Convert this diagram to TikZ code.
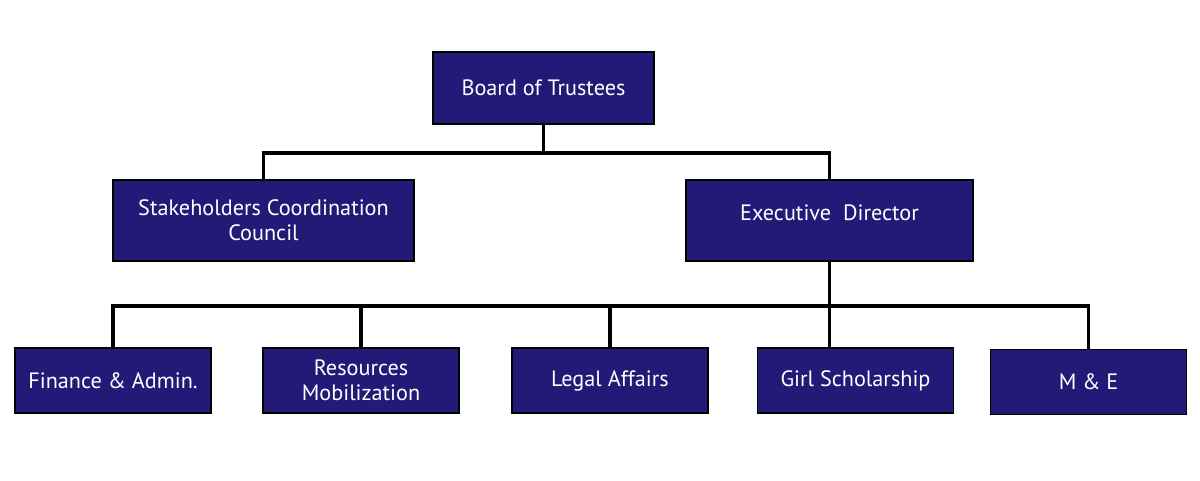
\documentclass[tikz,border=0pt]{standalone}
\usepackage{fontspec}
\usepackage{tikz}
\usepackage{xcolor}
\setmainfont{PT Sans}
\definecolor{boxblue}{RGB}{35,26,120}
\usetikzlibrary{positioning,calc}

\begin{document}
\begin{tikzpicture}[x=0.025cm,y=-0.025cm,line width=2.2pt,line join=miter,
                    main node/.style={rectangle,draw=black,line width=0.8pt,fill=boxblue,
                      text=white,align=center,inner sep=0pt,
                      font=\fontsize{15.8}{18}\selectfont},
                    top node/.style={main node,minimum width=5.525cm,minimum height=1.8cm},
                    mid node/.style={main node,minimum height=2.025cm},
                    low node/.style={main node,minimum width=4.9cm,minimum height=1.625cm}]

  \useasboundingbox (0,0) rectangle (1200,480);

  \node[top node] (board) at (543.5,88) {Board of Trustees};
  \node[mid node,minimum width=7.525cm] (stake) at (263.5,220.5) {Stakeholders Coordination\\Council};
  \node[mid node,minimum width=7.175cm] (exec) at (829.5,220.5) {Executive\ \ Director\\[-7pt]\mbox{}};

  \node[low node] (fin) at (113,380.5) {Finance \& Admin.};
  \node[low node] (res) at (361,380.5) {Resources\\Mobilization};
  \node[low node] (legal) at (610,380.5) {Legal Affairs};
  \node[low node] (girl) at (855.5,380.5) {Girl Scholarship};
  \node[low node] (me) at (1088.5,382) {M \& E};

  \coordinate (topbar) at (543.5,153);
  \coordinate (lowbar) at (610,306);

  % board level
  \draw (board.south) -- (board.south |- topbar);
  \draw (stake.north) -- (stake.north |- topbar) -| (exec.north);

  % departments
  \draw (exec.south) -- (exec.south |- girl.north);
  \draw (fin.north) -- (fin.north |- lowbar) -| (me.north);
  \draw (res.north) -- (res.north |- lowbar);
  \draw (legal.north) -- (legal.north |- lowbar);
\end{tikzpicture}
\end{document}
